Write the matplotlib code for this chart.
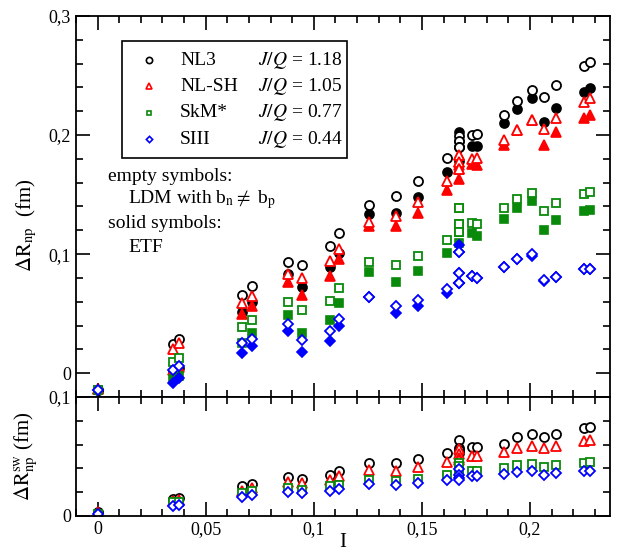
import numpy as np
import matplotlib
matplotlib.use("Agg")
import matplotlib.pyplot as plt
from matplotlib.ticker import MultipleLocator, FuncFormatter
from matplotlib.patches import Rectangle

plt.rcParams['font.family'] = ['Liberation Serif', 'DejaVu Serif']
plt.rcParams['mathtext.fontset'] = 'stix'

# isospin asymmetry I of each nucleus
I = [0, 0.035, 0.0376, 0.0668, 0.0715, 0.0881, 0.0945, 0.1073, 0.1115, 0.1253,
     0.1381, 0.1481, 0.1618, 0.1673, 0.1673, 0.1673, 0.1673, 0.1731, 0.1754,
     0.1881, 0.1941, 0.2008, 0.2065, 0.212, 0.2249, 0.2277]

# top panel: open = LDM with bn != bp, solid = ETF
nl3_open = [-0.014, 0.0243, 0.0285, 0.0653, 0.0731, 0.0935, 0.0905, 0.1064, 0.1173, 0.1415,
            0.1485, 0.161, 0.1807, 0.1993, 0.1946, 0.1899, 0.1899, 0.2002, 0.201,
            0.2169, 0.2289, 0.2379, 0.2323, 0.242, 0.258, 0.2616]
nl3_solid = [-0.014, 0.002, 0.004, 0.0517, 0.0597, 0.083, 0.0726, 0.089, 0.101, 0.134,
             0.1346, 0.1477, 0.1686, 0.2029, 0.1786, 0.1946, 0.1899, 0.1904, 0.1904,
             0.2105, 0.2219, 0.2309, 0.2113, 0.2225, 0.2364, 0.2393]
nlsh_open = [-0.013, 0.0207, 0.025, 0.0586, 0.0648, 0.0837, 0.0798, 0.094, 0.1044, 0.1267,
             0.1323, 0.144, 0.161, 0.1834, 0.177, 0.1714, 0.1714, 0.1798, 0.1807,
             0.196, 0.2044, 0.2127, 0.2052, 0.2141, 0.228, 0.2309]
nlsh_solid = [-0.013, 0.003, 0.005, 0.0494, 0.0564, 0.0765, 0.066, 0.0815, 0.0955, 0.1234,
              0.1234, 0.1346, 0.1535, 0.163, 0.1745, 0.177, 0.1834, 0.1759, 0.175,
              0.1918, 0.2044, 0.2127, 0.1918, 0.2024, 0.2147, 0.2169]
skm_open = [-0.014, 0.009, 0.0128, 0.0388, 0.0446, 0.06, 0.053, 0.0606, 0.0718, 0.0932,
            0.0905, 0.0988, 0.1122, 0.1388, 0.1256, 0.1183, 0.1183, 0.1262, 0.1254,
            0.1388, 0.1463, 0.1513, 0.1359, 0.143, 0.1508, 0.1522]
skm_solid = [-0.014, -0.005, -0.002, 0.0257, 0.0335, 0.049, 0.034, 0.0446, 0.0586, 0.0848,
             0.0765, 0.0854, 0.1005, 0.1094, 0.1256, 0.1183, 0.1388, 0.1173, 0.115,
             0.1296, 0.1388, 0.1443, 0.1206, 0.1284, 0.1359, 0.1368]
s3_open = [-0.014, 0.0028, 0.0056, 0.0251, 0.029, 0.041, 0.028, 0.0354, 0.0452, 0.0642,
           0.0564, 0.0614, 0.0709, 0.1016, 0.0843, 0.0754, 0.0754, 0.082, 0.080,
           0.0894, 0.096, 0.0997, 0.078, 0.081, 0.0871, 0.0871]
s3_solid = [-0.014, -0.0084, -0.0045, 0.0173, 0.0229, 0.035, 0.018, 0.027, 0.0396, 0.0642,
            0.0508, 0.0564, 0.0676, 0.108, 0.0754, 0.0843, 0.1016, 0.082, 0.080,
            0.0894, 0.096, 0.0982, 0.077, 0.081, 0.0871, 0.0871]

# bottom panel: surface width contribution
nl3_sw = [0.003, 0.0144, 0.0155, 0.0248, 0.0268, 0.0325, 0.0314, 0.0347, 0.0376, 0.0446,
          0.0446, 0.048, 0.0528, 0.0636, 0.0574, 0.0551, 0.053, 0.0579, 0.0579,
          0.0602, 0.0664, 0.0686, 0.0664, 0.0686, 0.0735, 0.0749]
nlsh_sw = [0.003, 0.0127, 0.0138, 0.0212, 0.0235, 0.0285, 0.0274, 0.0302, 0.0333, 0.039,
           0.0381, 0.0413, 0.0455, 0.0559, 0.0523, 0.0489, 0.047, 0.0503, 0.0503,
           0.054, 0.0568, 0.0587, 0.0568, 0.0587, 0.063, 0.0638]
skm_sw = [0.002, 0.0116, 0.012, 0.0189, 0.0206, 0.0235, 0.022, 0.0248, 0.0263, 0.0305,
          0.0297, 0.0314, 0.0347, 0.0446, 0.0418, 0.039, 0.037, 0.0376, 0.0376,
          0.0404, 0.0426, 0.0438, 0.041, 0.0426, 0.0446, 0.0455]
s3_sw = [0.002, 0.0087, 0.0093, 0.0158, 0.0178, 0.0201, 0.019, 0.0206, 0.0226, 0.0268,
         0.0257, 0.0277, 0.0305, 0.0398, 0.0347, 0.0319, 0.0305, 0.0333, 0.0333,
         0.0353, 0.037, 0.0381, 0.0347, 0.0362, 0.0381, 0.0381]

names = ['NL3', 'NL-SH', 'SkM*', 'SIII']
jq = ['1.18', '1.05', '0.77', '0.44']
colors = ['black', '#ff0000', '#0a8a0a', '#0000ff']
markers = ['o', '^', 's', 'D']
msizes = [6.5, 7.0, 5.6, 5.2]

top_open = [nl3_open, nlsh_open, skm_open, s3_open]
top_solid = [nl3_solid, nlsh_solid, skm_solid, s3_solid]
bottom_open = [nl3_sw, nlsh_sw, skm_sw, s3_sw]

fig, (ax1, ax2) = plt.subplots(2, 1, sharex=True, figsize=(6.17, 5.57), dpi=100,
                               gridspec_kw={'height_ratios': [0.32, 0.1]})
fig.subplots_adjust(left=76/617, right=610/617, top=1-16/557, bottom=1-516/557, hspace=0)

# solid symbols first, open ones (white filled) drawn over them
for k in range(4):
    ax1.plot(I, top_solid[k], linestyle='none', marker=markers[k], ms=msizes[k],
             mfc=colors[k], mec=colors[k], mew=1.2)
for k in range(4):
    ax1.plot(I, top_open[k], linestyle='none', marker=markers[k], ms=msizes[k],
             mfc='white', mec=colors[k], mew=1.3)
    ax2.plot(I, bottom_open[k], linestyle='none', marker=markers[k], ms=msizes[k],
             mfc='white', mec=colors[k], mew=1.3)

def comma(v, pos):
    if abs(v) < 1e-9:
        return '0'
    return ('%g' % v).replace('.', ',')

ax1.set_xlim(-0.01, 0.237)
ax1.set_ylim(-0.02, 0.3)
ax2.set_ylim(0, 0.1)
ax1.yaxis.set_major_locator(MultipleLocator(0.1))
ax1.yaxis.set_minor_locator(MultipleLocator(0.02))
ax2.yaxis.set_major_locator(MultipleLocator(0.1))
ax2.yaxis.set_minor_locator(MultipleLocator(0.02))
ax2.xaxis.set_major_locator(MultipleLocator(0.05))
ax2.xaxis.set_minor_locator(MultipleLocator(0.01))
for ax in (ax1, ax2):
    ax.yaxis.set_major_formatter(FuncFormatter(comma))
    ax.xaxis.set_major_formatter(FuncFormatter(comma))
    ax.tick_params(which='both', direction='in', top=True, right=True, labelsize=13, width=1.2)
    ax.tick_params(which='major', length=10)
    ax.tick_params(which='minor', length=5)
    for s in ax.spines.values():
        s.set_linewidth(1.3)
ax1.tick_params(labelbottom=False)

ax1.set_ylabel(r'$\Delta\mathrm{R}_{\mathrm{np}}$  (fm)', fontsize=15)
ax2.set_ylabel(r'$\Delta\mathrm{R}_{\mathrm{np}}^{\mathrm{sw}}$ (fm)', fontsize=15)
ax1.yaxis.set_label_coords(-0.07, 0.45)
ax2.yaxis.set_label_coords(-0.07, 0.5)
ax2.set_xlabel('I', fontsize=15)
ax2.xaxis.set_label_coords(0.5, -0.14)

# legend box
ax1.add_patch(Rectangle((0.0856, 0.628), 0.421, 0.307, transform=ax1.transAxes,
                        fill=False, edgecolor='black', linewidth=1.2))
rows = [0.884, 0.816, 0.746, 0.677]
for k in range(4):
    ax1.plot([0.137], [rows[k]], transform=ax1.transAxes, linestyle='none',
             marker=markers[k], ms=msizes[k] - 2, mfc='white', mec=colors[k], mew=1.2)
    ax1.text(0.195, rows[k], names[k], transform=ax1.transAxes, fontsize=14, va='center')
    ax1.text(0.341, rows[k], r'$J/Q$ = ' + jq[k], transform=ax1.transAxes, fontsize=14,
             va='center')

ax1.text(0.0605, 0.579, 'empty symbols:', transform=ax1.transAxes, fontsize=14, va='center')
ax1.text(0.098, 0.518, r'LDM with b$_\mathrm{n}$$\neq$ b$_\mathrm{p}$', transform=ax1.transAxes,
         fontsize=14, va='center')
ax1.text(0.0605, 0.455, 'solid symbols:', transform=ax1.transAxes, fontsize=14, va='center')
ax1.text(0.098, 0.392, 'ETF', transform=ax1.transAxes, fontsize=14, va='center')

fig.savefig('out.png', dpi=100)
plt.close(fig)
